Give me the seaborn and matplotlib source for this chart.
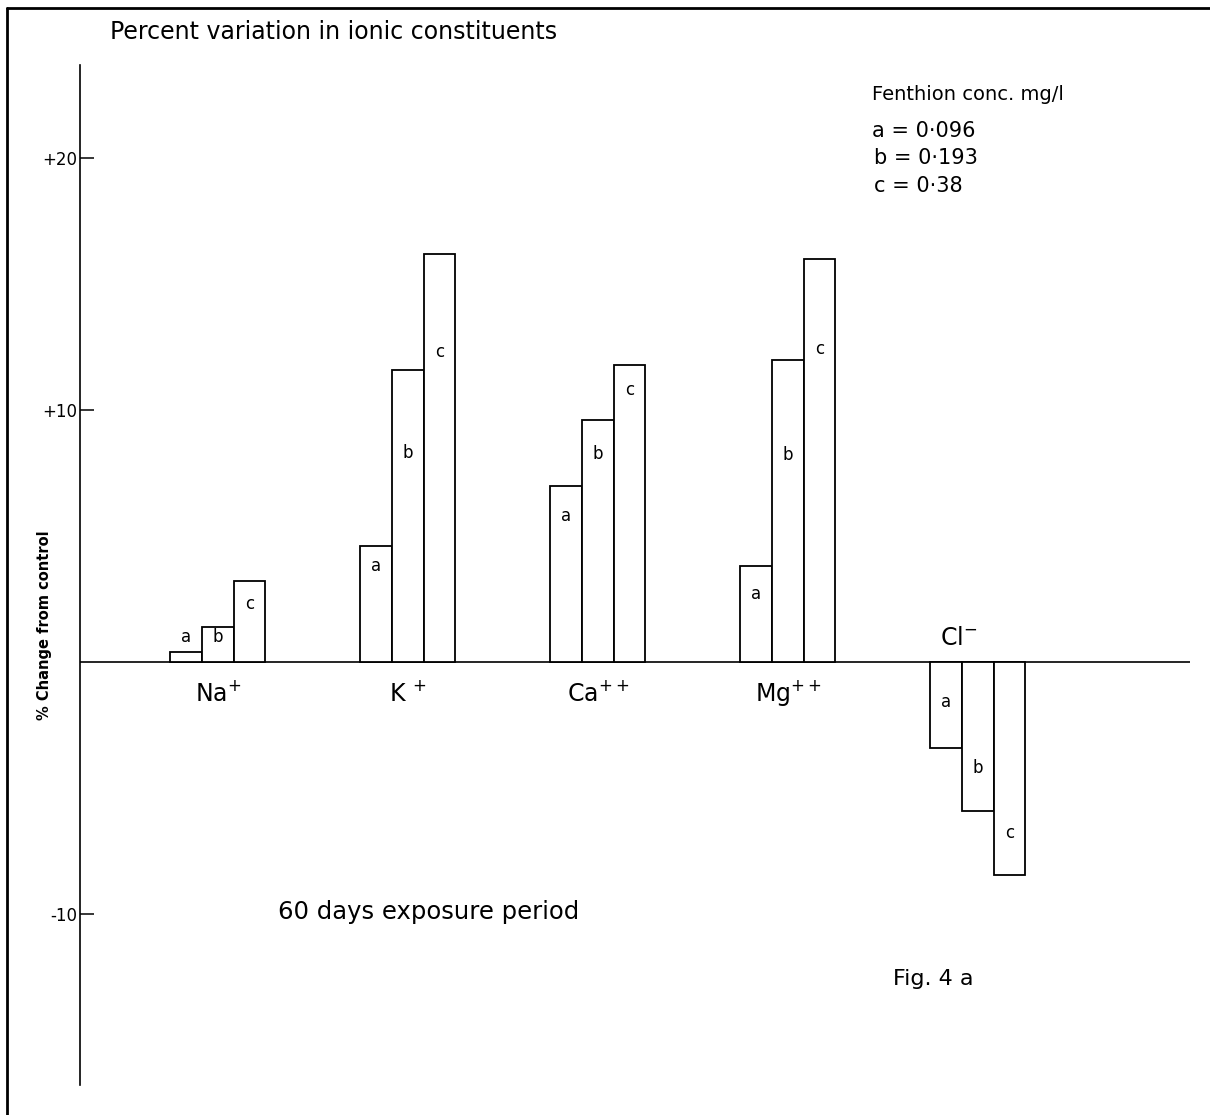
import numpy as np
import pandas as pd
import seaborn as sns
import matplotlib.pyplot as plt
from matplotlib.lines import Line2D

# Datos (% de cambio respecto al control)
ions = ['Na', 'K', 'Ca', 'Mg', 'Cl']
ion_labels = ['Na$^{+}$', 'K $^{+}$', 'Ca$^{++}$', 'Mg$^{++}$', 'Cl$^{-}$']
levels = ['a', 'b', 'c']
pct_a = [0.4, 4.6, 7.0, 3.8, -3.4]
pct_b = [1.4, 11.6, 9.6, 12.0, -5.9]
pct_c = [3.2, 16.2, 11.8, 16.0, -8.45]
yticks = [20, 10, -10]
ytick_labels = ['+20', '+10', '-10']

df = pd.DataFrame({
    'ion': ions * 3,
    'conc': ['a'] * 5 + ['b'] * 5 + ['c'] * 5,
    'pct': pct_a + pct_b + pct_c,
})

# altura de las letras dentro de las barras
letter_y = {
    'a': [1.0, 3.8, 5.8, 2.7, -1.6],
    'b': [1.0, 8.3, 8.25, 8.2, -4.2],
    'c': [2.3, 12.3, 10.8, 12.4, -6.8],
}

sns.set_style('white')
plt.rcParams['text.color'] = 'black'
plt.rcParams['ytick.color'] = 'black'

fig = plt.figure(figsize=(12.1, 11.15), dpi=100)
ax = fig.add_axes([80 / 1210, 30 / 1115, 1110 / 1210, 1020 / 1115])

sns.barplot(data=df, x='ion', y='pct', hue='conc', order=ions, hue_order=levels,
            width=0.5, palette={'a': 'white', 'b': 'white', 'c': 'white'},
            edgecolor='black', linewidth=1.3, errorbar=None, legend=False, ax=ax)

ax.set_xlim(-0.726, 5.116)
ax.set_ylim(-16.79, 23.69)
for s in ['top', 'right', 'bottom']:
    ax.spines[s].set_visible(False)
ax.spines['left'].set_color('black')
ax.spines['left'].set_linewidth(1.2)
ax.axhline(0, color='black', lw=1.2, zorder=0)

ax.set_xticks([])
ax.set_yticks(yticks)
ax.set_yticklabels(ytick_labels)
ax.tick_params(axis='y', left=True, direction='in', length=10, width=1.1, pad=2,
               labelsize=12, color='black', labelcolor='black')
ax.set_xlabel('')
ax.set_ylabel('')

# letras a, b, c en cada barra
for lev, cont in zip(levels, ax.containers):
    for i, bar in enumerate(cont):
        xc = bar.get_x() + bar.get_width() / 2
        ax.text(xc, letter_y[lev][i], lev, ha='center', va='center', fontsize=12)

# nombres de los iones
for i, lab in enumerate(ion_labels):
    if pct_c[i] < 0:
        ax.text(i - 0.1, 0.95, lab, ha='center', va='center', fontsize=17)
    else:
        ax.text(i, -1.25, lab, ha='center', va='center', fontsize=17)

# textos
fig.text(110 / 1210, 1 - 32 / 1115, 'Percent variation in ionic constituents',
         fontsize=17, va='center', ha='left')
fig.text(872 / 1210, 1 - 95 / 1115, 'Fenthion conc. mg/l', fontsize=14, va='center')
fig.text(872 / 1210, 1 - 131 / 1115, 'a = 0·096', fontsize=15, va='center')
fig.text(874 / 1210, 1 - 158 / 1115, 'b = 0·193', fontsize=15, va='center')
fig.text(874 / 1210, 1 - 186 / 1115, 'c = 0·38', fontsize=15, va='center')
fig.text(278 / 1210, 1 - 912 / 1115, '60 days exposure period', fontsize=17.5, va='center')
fig.text(893 / 1210, 1 - 979 / 1115, 'Fig. 4 a', fontsize=16, va='center')
fig.text(45 / 1210, 1 - 625 / 1115, '% Change from control', rotation=90,
         fontsize=10.5, fontweight='bold', ha='center', va='center')

# marco de la imagen escaneada
fig.add_artist(Line2D([7 / 1210, 1], [1 - 8 / 1115, 1 - 8 / 1115],
                      transform=fig.transFigure, color='black', lw=2))
fig.add_artist(Line2D([7 / 1210, 7 / 1210], [0, 1 - 8 / 1115],
                      transform=fig.transFigure, color='black', lw=2))

fig.savefig('out.png', dpi=100)
